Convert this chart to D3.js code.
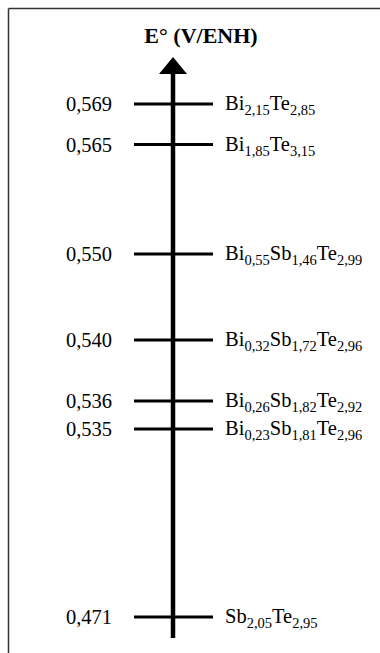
<!DOCTYPE html>
<html>
<head>
<meta charset="utf-8">
<script src="https://cdn.jsdelivr.net/npm/d3@7"></script>
<style>
  html, body { margin: 0; padding: 0; background: #fff; }
  svg { display: block; }
</style>
</head>
<body>
<svg id="chart" width="380" height="653"></svg>
<script>
// ---- data ----
const potentials = [0.569, 0.565, 0.550, 0.540, 0.536, 0.535, 0.471];
const compounds = [
  [["Bi", "2,15"], ["Te", "2,85"]],
  [["Bi", "1,85"], ["Te", "3,15"]],
  [["Bi", "0,55"], ["Sb", "1,46"], ["Te", "2,99"]],
  [["Bi", "0,32"], ["Sb", "1,72"], ["Te", "2,96"]],
  [["Bi", "0,26"], ["Sb", "1,82"], ["Te", "2,92"]],
  [["Bi", "0,23"], ["Sb", "1,81"], ["Te", "2,96"]],
  [["Sb", "2,05"], ["Te", "2,95"]]
];
const axisTitle = "E° (V/ENH)";

// ---- layout (schematic, non-linear level spacing) ----
const levelY = [104, 144.5, 254, 340, 401, 429, 617];
const axisX = 173;
const FONT = "'Liberation Serif', 'Times New Roman', Times, serif";

const svg = d3.select("#chart");
const y = d3.scaleLinear().domain(potentials).range(levelY);
const fmt = v => d3.format(".3f")(v).replace(".", ",");

// frame (top and left lines)
svg.append("line").attr("x1", 8.5).attr("y1", 8.5).attr("x2", 380).attr("y2", 8.5)
  .attr("stroke", "#333").attr("stroke-width", 1.5);
svg.append("line").attr("x1", 8.5).attr("y1", 8.5).attr("x2", 8.5).attr("y2", 653)
  .attr("stroke", "#333").attr("stroke-width", 1.5);

// axis shaft and arrow head
svg.append("line").attr("x1", axisX).attr("x2", axisX).attr("y1", 70).attr("y2", 638)
  .attr("stroke", "#000").attr("stroke-width", 4.5);
svg.append("path")
  .attr("d", d3.line()([[axisX, 57], [axisX - 14, 74], [axisX + 14, 74]]) + "Z")
  .attr("fill", "#000");

// title
svg.append("text").attr("x", 201).attr("y", 43).attr("text-anchor", "middle")
  .attr("font-family", FONT)
  .attr("font-size", 22).attr("font-weight", "bold").text(axisTitle);

// levels
const g = svg.append("g").selectAll("g").data(potentials).join("g");
g.append("line")
  .attr("x1", 134).attr("x2", 213)
  .attr("y1", d => y(d)).attr("y2", d => y(d))
  .attr("stroke", "#000").attr("stroke-width", 3);
g.append("text")
  .attr("x", 112).attr("y", d => y(d) + 7)
  .attr("text-anchor", "end").attr("font-size", 20.5)
  .attr("font-family", FONT)
  .text(d => fmt(d));

const lbl = g.append("text")
  .attr("x", 225).attr("y", d => y(d) + 6)
  .attr("font-family", FONT)
  .attr("font-size", 20);
lbl.each(function(d, i) {
  const t = d3.select(this);
  compounds[i].forEach(([el, sub], k) => {
    t.append("tspan").attr("font-size", 20.5).attr("dy", k === 0 ? 0 : -5).text(el);
    t.append("tspan").attr("font-size", 14.5).attr("dy", 5).text(sub);
  });
});
</script>
</body>
</html>
